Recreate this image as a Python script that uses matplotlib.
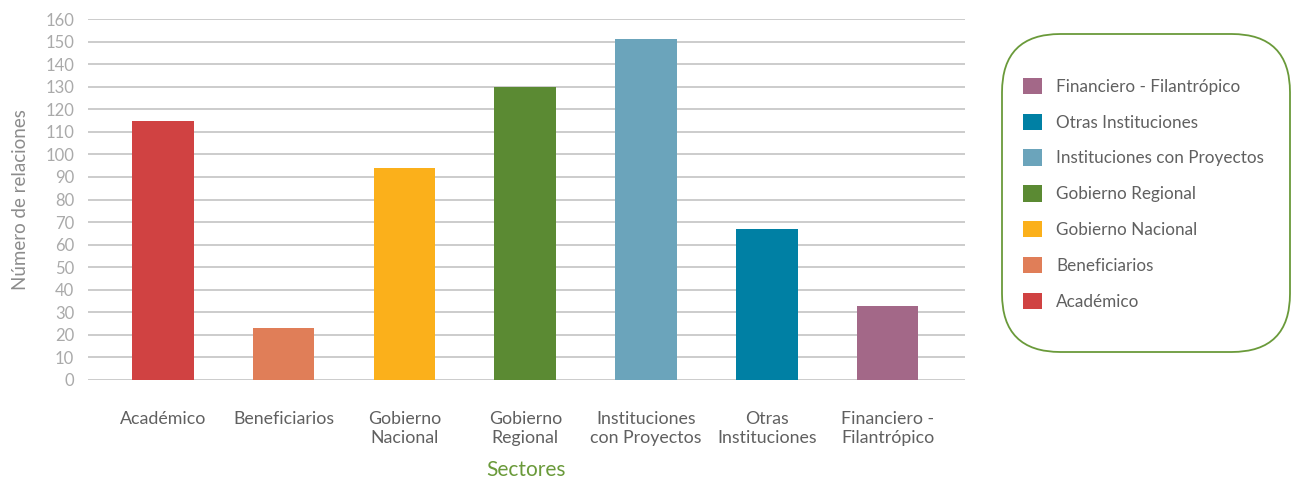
import matplotlib
matplotlib.use('Agg')
import matplotlib.pyplot as plt
from matplotlib.patches import FancyBboxPatch, Patch

# Data
sectores = ['Académico', 'Beneficiarios', 'Gobierno Nacional', 'Gobierno Regional',
            'Instituciones con Proyectos', 'Otras Instituciones', 'Financiero - Filantrópico']
tick_labels = ['Académico', 'Beneficiarios', 'Gobierno\nNacional', 'Gobierno\nRegional',
               'Instituciones\ncon Proyectos', 'Otras\nInstituciones', 'Financiero -\nFilantrópico']
relaciones = [115, 23, 94, 130, 151, 67, 33]
colores = ['#d04242', '#e07e58', '#fbb01b', '#5b8a33', '#6ba4bb', '#0080a4', '#a36888']

plt.rcParams['font.family'] = ['Lato', 'DejaVu Sans']

fig = plt.figure(figsize=(12.97, 4.80), dpi=100)
ax = fig.add_axes([88 / 1297, 1 - 380 / 480, (965 - 88) / 1297, (380 - 19) / 480])

x = list(range(len(sectores)))
ax.bar(x, relaciones, width=0.51, color=colores, zorder=3)

ax.set_ylim(0, 160)
ax.set_xlim(-0.62, 6.64)
ax.set_yticks(range(0, 161, 10))
ax.set_xticks(x)
ax.set_xticklabels(tick_labels, fontsize=12.8, color='#606060', linespacing=1.25)
for lbl in ax.get_yticklabels():
    lbl.set_fontsize(12)
    lbl.set_color('#aaaaaa')

ax.grid(axis='y', color='#c4c4c4', linewidth=1.2, zorder=0)
ax.tick_params(axis='both', length=0)
ax.tick_params(axis='y', pad=10)
ax.tick_params(axis='x', pad=22)
for s in ax.spines.values():
    s.set_visible(False)

ax.set_ylabel('Número de relaciones', fontsize=13.5, color='#8c8c8c', labelpad=12)
ax.set_xlabel('Sectores', fontsize=15, color='#6a9a3a', labelpad=10)

# Legend box
box = FancyBboxPatch((1002 / 1297, 1 - 352 / 480), (1290 - 1002) / 1297, (352 - 34) / 480,
                     boxstyle='round,pad=0,rounding_size=0.045', transform=fig.transFigure,
                     facecolor='white', edgecolor='#6a9a3a', linewidth=1.3,
                     mutation_aspect=1297 / 480)
fig.patches.append(box)

handles = [Patch(facecolor=c, label=s) for s, c in zip(sectores, colores)][::-1]
leg = fig.legend(handles=handles, loc='upper left', bbox_to_anchor=(1016 / 1297, 1 - 71 / 480),
                 frameon=False, fontsize=12.3, labelcolor='#606060', handlelength=1.1,
                 handleheight=1.1, handletextpad=0.85, labelspacing=1.1, borderaxespad=0)

fig.savefig('out.png', dpi=100, facecolor='white')
